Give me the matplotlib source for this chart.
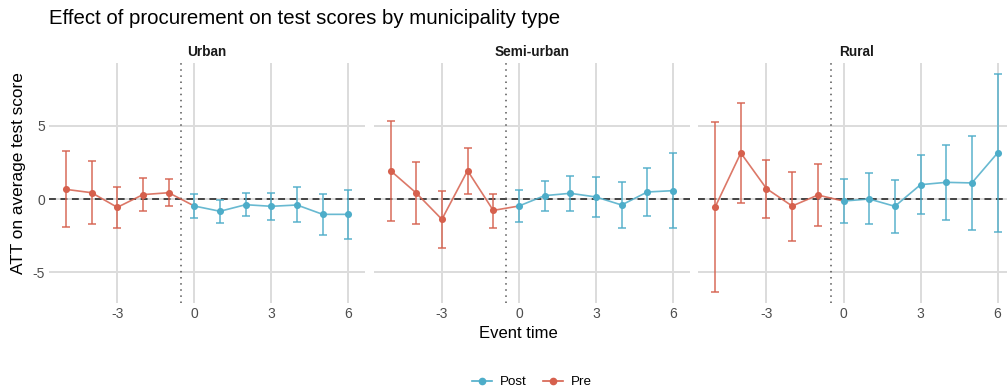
import matplotlib
matplotlib.use("Agg")
import matplotlib.pyplot as plt
import numpy as np
from matplotlib.lines import Line2D

plt.rcParams['font.family'] = ['Liberation Sans', 'DejaVu Sans']
plt.rcParams['axes.unicode_minus'] = False

# ---------------- data ----------------
panels = ["Urban", "Semi-urban", "Rural"]
event_time = [-5, -4, -3, -2, -1, 0, 1, 2, 3, 4, 5, 6]
period = ["Pre"] * 5 + ["Post"] * 7

att_urban = [0.66, 0.43, -0.57, 0.30, 0.43, -0.48, -0.84, -0.39, -0.50, -0.41, -1.05, -1.05]
upper_urban = [3.26, 2.60, 0.82, 1.42, 1.37, 0.32, -0.07, 0.39, 0.41, 0.80, 0.34, 0.62]
lower_urban = [-1.94, -1.71, -1.99, -0.82, -0.48, -1.28, -1.62, -1.19, -1.46, -1.60, -2.47, -2.76]

att_semi = [1.94, 0.41, -1.39, 1.94, -0.78, -0.48, 0.23, 0.39, 0.14, -0.41, 0.48, 0.57]
upper_semi = [5.34, 2.56, 0.55, 3.47, 0.37, 0.64, 1.21, 1.58, 1.48, 1.14, 2.15, 3.13]
lower_semi = [-1.51, -1.71, -3.36, 0.34, -1.96, -1.60, -0.80, -0.84, -1.23, -1.99, -1.16, -1.96]

att_rural = [-0.55, 3.15, 0.71, -0.48, 0.27, -0.14, 0.00, -0.50, 0.98, 1.14, 1.10, 3.15]
upper_rural = [5.30, 6.60, 2.67, 1.83, 2.40, 1.37, 1.76, 1.30, 3.01, 3.70, 4.32, 8.56]
lower_rural = [-6.37, -0.27, -1.30, -2.85, -1.85, -1.64, -1.74, -2.33, -1.05, -1.42, -2.12, -2.28]

x_ticks = [-3, 0, 3, 6]
y_ticks = [-5, 0, 5]
title = "Effect of procurement on test scores by municipality type"
x_label = "Event time"
y_label = "ATT on average test score"
legend_labels = ["Post", "Pre"]

att = [att_urban, att_semi, att_rural]
upper = [upper_urban, upper_semi, upper_rural]
lower = [lower_urban, lower_semi, lower_rural]

# ---------------- style ----------------
COL = {"Pre": "#D6604D", "Post": "#4DADC9"}
GRID = "#DCDCDC"
W, H = 1007, 389
DPI = 100

fig = plt.figure(figsize=(W / DPI, H / DPI), dpi=DPI)

pw = 316.3
gap = 8.3
p_left0 = 49.0
p_top, p_bot = 63.0, 303.0

# shared limits (ggplot-like 5% expansion)
ew = 0.1
xmin = min(event_time) - ew
xmax = max(event_time) + ew
xr = xmax - xmin
xlim = (xmin - 0.05 * xr, xmax + 0.05 * xr)
allv = np.concatenate([np.ravel(upper), np.ravel(lower)])
yr = allv.max() - allv.min()
ylim = (allv.min() - 0.05 * yr, allv.max() + 0.05 * yr)

x = np.array(event_time)
per = np.array(period)

axes = []
for i, name in enumerate(panels):
    l = p_left0 + i * (pw + gap)
    ax = fig.add_axes([l / W, (H - p_bot) / H, pw / W, (p_bot - p_top) / H])
    axes.append(ax)
    ax.set_xlim(*xlim)
    ax.set_ylim(*ylim)
    for s in ax.spines.values():
        s.set_visible(False)
    ax.set_xticks(x_ticks)
    ax.set_yticks(y_ticks)
    ax.tick_params(length=0, labelsize=10, labelcolor="#4D4D4D", pad=3)
    if i > 0:
        ax.set_yticklabels([])
    ax.grid(True, color=GRID, linewidth=1.4, zorder=0)
    ax.set_axisbelow(True)

    ax.axhline(0, color="#1a1a1a", linestyle=(0, (4.5, 3)), linewidth=1.1, zorder=2)
    ax.axvline(-0.5, color="#555555", linestyle=(0, (1, 3)), linewidth=1.1, zorder=2)

    yv = np.array(att[i])
    up = np.array(upper[i])
    lo = np.array(lower[i])

    pre = per == "Pre"
    post = per == "Post"
    # lines: pre segment continues to first post point (colored as pre)
    idx_pre = np.where(pre)[0]
    idx_pre_line = np.append(idx_pre, idx_pre[-1] + 1)
    ax.plot(x[idx_pre_line], yv[idx_pre_line], color=COL["Pre"], lw=1.2, alpha=0.85, zorder=3)
    ax.plot(x[post], yv[post], color=COL["Post"], lw=1.2, alpha=0.85, zorder=3)

    for key, m in (("Pre", pre), ("Post", post)):
        ax.errorbar(x[m], yv[m], yerr=[yv[m] - lo[m], up[m] - yv[m]], fmt="none",
                    ecolor=COL[key], elinewidth=1.2, capsize=2.6, capthick=1.2,
                    alpha=0.85, zorder=3)
        ax.scatter(x[m], yv[m], s=26, color=COL[key], zorder=4, linewidths=0)

    ax.set_title(name, fontsize=9.8, fontweight="bold", color="#1a1a1a", pad=5)

fig.text(p_left0 / W, 1 - 18.5 / H, title, fontsize=14.7, ha="left", va="center", color="#000000")
fig.text(518.7 / W, 1 - 334 / H, x_label, fontsize=12, ha="center", va="center")
fig.text(18.5 / W, 1 - 173 / H, y_label, fontsize=12.4, ha="center", va="center", rotation=90)

handles = [Line2D([0], [0], color=COL[k], marker="o", markersize=4.5, lw=1.2) for k in legend_labels]
fig.legend(handles, legend_labels, loc="center", bbox_to_anchor=(532 / W, 1 - 382 / H),
           ncol=2, frameon=False, fontsize=9.6, handlelength=1.5, handletextpad=0.6,
           columnspacing=1.2, borderaxespad=0)

fig.savefig("out.png", dpi=DPI)
